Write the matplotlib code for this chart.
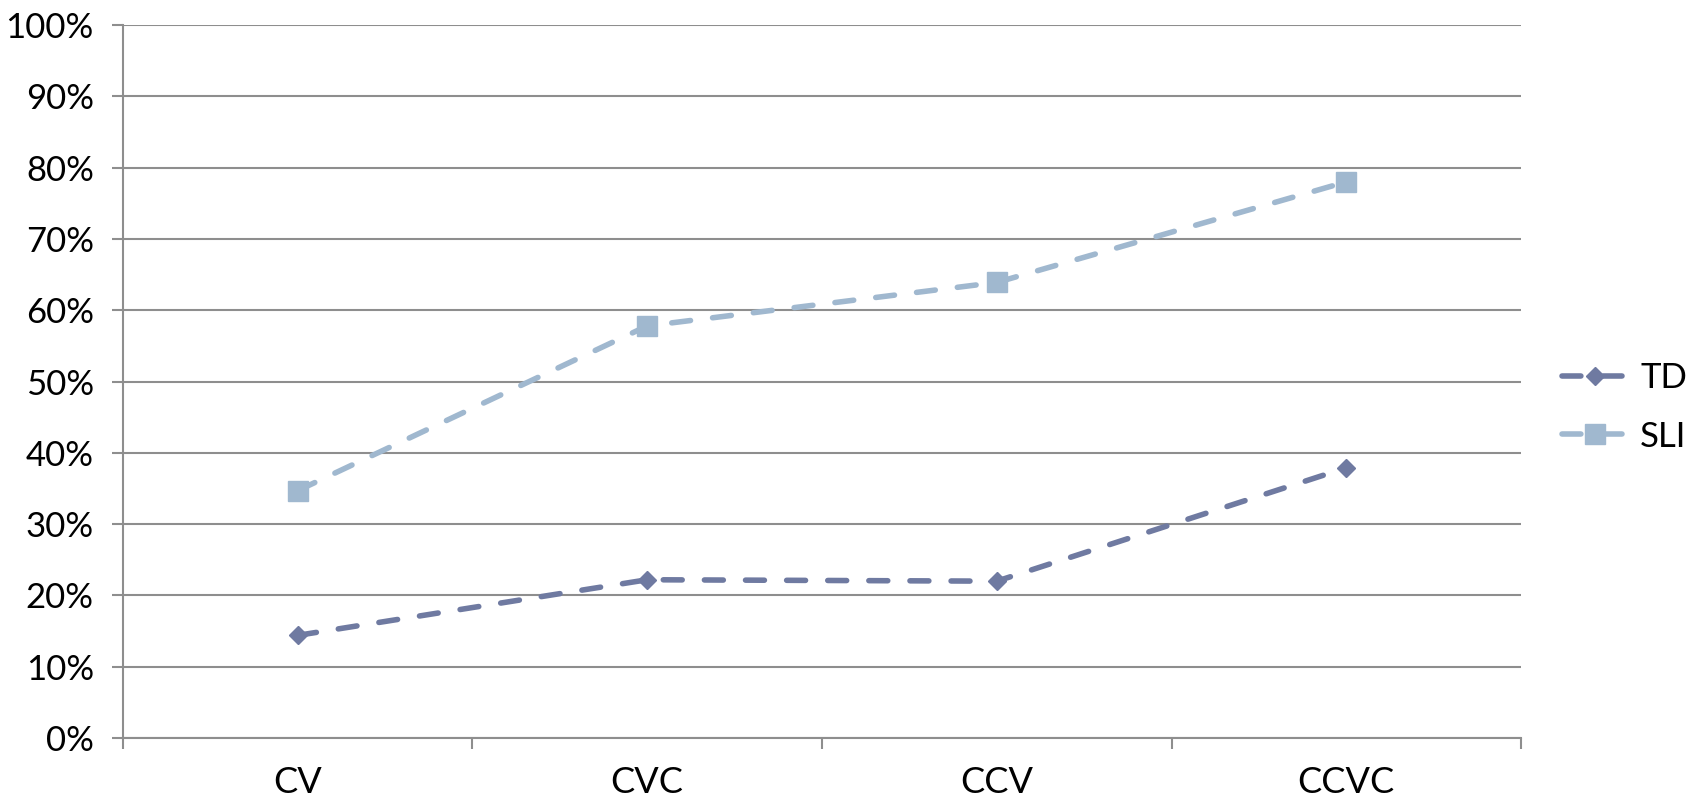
import matplotlib
matplotlib.use("Agg")
import matplotlib.pyplot as plt
from matplotlib.ticker import FixedLocator, PercentFormatter

categories = ["CV", "CVC", "CCV", "CCVC"]
td_values = [14.4, 22.2, 22.0, 37.9]
sli_values = [34.7, 57.8, 63.9, 78.0]
y_ticks = [0, 10, 20, 30, 40, 50, 60, 70, 80, 90, 100]

plt.rcParams['font.family'] = ['Lato', 'DejaVu Sans']

TD_COLOR = "#6F7AA1"
SLI_COLOR = "#A0B8CF"
GRID = "#8E8E8E"

fig = plt.figure(figsize=(16.98, 7.99), dpi=100)
ax = fig.add_axes([0.0724, 0.0763, 0.8234, 0.8924])

x = [i + 0.5 for i in range(len(categories))]
ax.plot(x, td_values, color=TD_COLOR, lw=4, dashes=(3.4, 4.0),
        dash_capstyle='round', marker='D', ms=9, label='TD', zorder=3)
ax.plot(x, sli_values, color=SLI_COLOR, lw=4, dashes=(3.4, 4.0),
        dash_capstyle='round', marker='s', ms=14, label='SLI', zorder=3)

ax.set_xlim(0, len(categories))
ax.set_ylim(0, 100)
ax.set_yticks(y_ticks)
ax.yaxis.set_major_formatter(PercentFormatter(decimals=0))
ax.set_xticks(x)
ax.set_xticklabels(categories)
ax.xaxis.set_minor_locator(FixedLocator(range(len(categories) + 1)))

ax.grid(axis='y', color=GRID, lw=1.5)
ax.set_axisbelow(True)
for s in ['top', 'right']:
    ax.spines[s].set_visible(False)
for s in ['left', 'bottom']:
    ax.spines[s].set_color(GRID)
    ax.spines[s].set_linewidth(1.5)

ax.tick_params(axis='y', length=8, width=1.5, color=GRID, pad=13, labelsize=25)
ax.tick_params(axis='x', which='major', length=0, pad=20, labelsize=26)
ax.tick_params(axis='x', which='minor', length=8, width=1.5, color=GRID, direction='out')

leg = fig.legend(loc='center left', bbox_to_anchor=(0.92, 0.49), frameon=False,
                 fontsize=25, handlelength=1.9, labelspacing=0.75, handletextpad=0.35,
                 borderpad=0, borderaxespad=0)

fig.savefig("out.png", dpi=100)
